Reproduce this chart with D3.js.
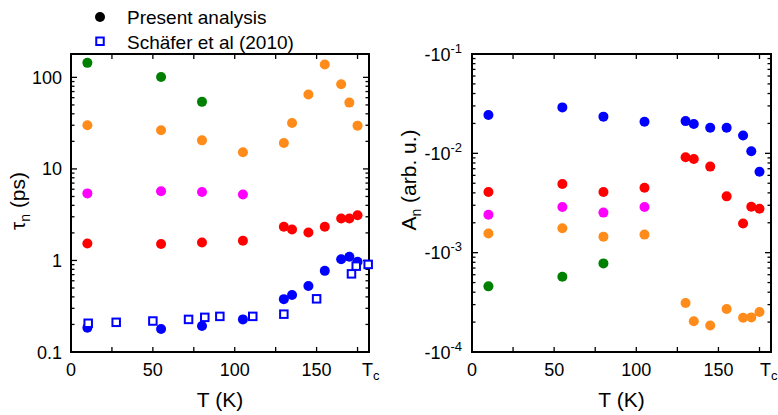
<!DOCTYPE html>
<html><head><meta charset="utf-8">
<script src="https://cdn.jsdelivr.net/npm/d3@7"></script>
<style>body{margin:0;background:#fff}svg{display:block;font-family:"Liberation Sans",Arial,sans-serif}</style>
</head><body><svg id="c" width="778" height="415"></svg>
<script>
// ---- data ----
const T11 = [10, 55, 80, 105, 130, 135, 145, 155, 165, 170, 175];
const T4 = [10, 55, 80, 105];
const T3 = [10, 55, 80];
// tau_n (ps)
const tauGreen = [144, 101, 54];
const tauOrange = [30, 26.5, 20.5, 15.2, 19.2, 31.7, 65, 138, 84, 53, 29.7];
const tauMagenta = [5.4, 5.7, 5.6, 5.25];
const tauRed = [1.53, 1.51, 1.57, 1.64, 2.33, 2.18, 2.02, 2.33, 2.87, 2.87, 3.12];
const tauBlue = [0.184, 0.178, 0.192, 0.227, 0.378, 0.42, 0.525, 0.77, 1.03, 1.10, 0.97];
const schaeferT = [10.5, 27.6, 50, 71.8, 81.7, 90.9, 111, 130, 150, 171.3, 174.2, 181.5];
const schaeferTau = [0.206, 0.211, 0.218, 0.227, 0.239, 0.245, 0.245, 0.259, 0.381, 0.714, 0.867, 0.905];
// A_n (arb. u.)
const ABlue = [-0.0243, -0.029, -0.0234, -0.0208, -0.0211, -0.0197, -0.0181, -0.0181, -0.0151, -0.0105, -0.00653];
const ARed = [-0.00408, -0.00491, -0.00408, -0.00451, -0.00912, -0.00878, -0.00735, -0.00369, -0.00197, -0.0029, -0.00277];
const AMagenta = [-0.00241, -0.00288, -0.00253, -0.00288];
const AOrange = [-0.00156, -0.00176, -0.00145, -0.00152, -0.000311, -0.000204, -0.000185, -0.000271, -0.000221, -0.000223, -0.000253];
const AGreen = [-0.000458, -0.000573, -0.00078];
const xTicks = [0, 50, 100, 150];
const xMinor = [25, 75, 125, 175];
const leftYTicks = [0.1, 1, 10, 100];
const rightYExp = [-1, -2, -3, -4];
const legendLabels = ["Present analysis", "Schäfer et al (2010)"];

const C = {green: "#008000", orange: "#ff8c1a", magenta: "#ff00ff", red: "#ff0000", blue: "#0000ff"};
const svg = d3.select("#c");
const R = 5;

function panel(x0, x1, y0, y1, yDomain, tcShift) {
  const g = svg.append("g");
  const x = d3.scaleLinear().domain([0, 182]).range([x0, x1]);
  const y = d3.scaleLog().domain(yDomain).range([y1, y0]);
  // ticks
  const tk = g.append("g").attr("stroke", "#000").attr("stroke-width", 1.3);
  const xt = xTicks.concat(xMinor).filter(v => v > 0);
  xt.forEach(v => {
    tk.append("line").attr("x1", x(v)).attr("x2", x(v)).attr("y1", y1).attr("y2", y1 - 5);
    tk.append("line").attr("x1", x(v)).attr("x2", x(v)).attr("y1", y0).attr("y2", y0 + 5);
  });
  const [a, b] = yDomain.map(v => Math.abs(v));
  const lo = Math.floor(Math.log10(Math.min(a, b))), hi = Math.ceil(Math.log10(Math.max(a, b)));
  const sign = yDomain[0] < 0 ? -1 : 1;
  for (let e = lo; e <= hi; e++) {
    for (let m = 1; m <= 9; m++) {
      const v = sign * m * Math.pow(10, e);
      const av = Math.abs(v);
      if (av < Math.min(a, b) * 0.999 || av > Math.max(a, b) * 1.001) continue;
      const len = m === 1 ? 6 : 3.5;
      tk.append("line").attr("x1", x0).attr("x2", x0 + len).attr("y1", y(v)).attr("y2", y(v));
      tk.append("line").attr("x1", x1).attr("x2", x1 - len).attr("y1", y(v)).attr("y2", y(v));
    }
  }
  // frame
  g.append("rect").attr("x", x0).attr("y", y0).attr("width", x1 - x0).attr("height", y1 - y0)
    .attr("fill", "none").attr("stroke", "#000").attr("stroke-width", 2);
  // x labels
  g.selectAll(".xl").data(xTicks).join("text").attr("x", d => x(d)).attr("y", y1 + 24)
    .attr("text-anchor", "middle").attr("font-size", 18).text(d => d);
  const tc = g.append("text").attr("x", x1 - tcShift).attr("y", y1 + 24).attr("font-size", 18);
  tc.append("tspan").text("T");
  tc.append("tspan").attr("font-size", 13).attr("dy", 4).text("c");
  g.append("text").attr("x", (x0 + x1) / 2).attr("y", y1 + 55).attr("text-anchor", "middle")
    .attr("font-size", 21).text("T (K)");
  return {g, x, y};
}

function dots(p, xs, ys, color) {
  p.g.append("g").selectAll("circle").data(xs).join("circle")
    .attr("cx", (d) => p.x(d)).attr("cy", (d, i) => p.y(ys[i])).attr("r", R).attr("fill", color);
}

// Left panel
const L = panel(71, 369, 54, 352, [0.1, 180], 7);
L.g.selectAll(".yl").data(leftYTicks).join("text").attr("x", 62).attr("y", d => L.y(d) + 6.5)
  .attr("text-anchor", "end").attr("font-size", 18).text(d => d);
const lt = L.g.append("text").attr("transform", "translate(25,201) rotate(-90)")
  .attr("text-anchor", "middle").attr("font-size", 21);
lt.append("tspan").text("τ");
lt.append("tspan").attr("font-size", 14).attr("dy", 5).text("n");
lt.append("tspan").attr("dy", -5).text(" (ps)");
dots(L, T3, tauGreen, C.green);
dots(L, T11, tauOrange, C.orange);
dots(L, T4, tauMagenta, C.magenta);
dots(L, T11, tauRed, C.red);
dots(L, T11, tauBlue, C.blue);
L.g.append("g").selectAll("rect").data(schaeferT).join("rect")
  .attr("x", d => L.x(d) - 3.75).attr("y", (d, i) => L.y(schaeferTau[i]) - 3.75)
  .attr("width", 7.5).attr("height", 7.5).attr("fill", "#fff")
  .attr("stroke", C.blue).attr("stroke-width", 2);

// Right panel
const Rp = panel(472, 771, 54, 352, [-1e-4, -1e-1], 11);
rightYExp.forEach(e => {
  const t = Rp.g.append("text").attr("x", 462).attr("y", Rp.y(-Math.pow(10, e)) + 6.5)
    .attr("text-anchor", "end").attr("font-size", 18);
  t.append("tspan").text("-10");
  t.append("tspan").attr("font-size", 13).attr("dy", -8).text(e);
});
const rt = Rp.g.append("text").attr("transform", "translate(416,180) rotate(-90)")
  .attr("text-anchor", "middle").attr("font-size", 21);
rt.append("tspan").text("A");
rt.append("tspan").attr("font-size", 14).attr("dy", 5).text("n");
rt.append("tspan").attr("dy", -5).text(" (arb. u.)");
dots(Rp, T11, ABlue, C.blue);
dots(Rp, T11, ARed, C.red);
dots(Rp, T4, AMagenta, C.magenta);
dots(Rp, T11, AOrange, C.orange);
dots(Rp, T3, AGreen, C.green);

// Legend
const lg = svg.append("g");
lg.append("circle").attr("cx", 100).attr("cy", 17).attr("r", R).attr("fill", "#000");
lg.append("rect").attr("x", 96.25).attr("y", 37.5).attr("width", 7.5).attr("height", 7.5)
  .attr("fill", "#fff").attr("stroke", C.blue).attr("stroke-width", 2);
lg.selectAll("text").data(legendLabels).join("text").attr("x", 127).attr("y", (d, i) => 24 + i * 25)
  .attr("font-size", 19).text(d => d);
</script></body></html>
